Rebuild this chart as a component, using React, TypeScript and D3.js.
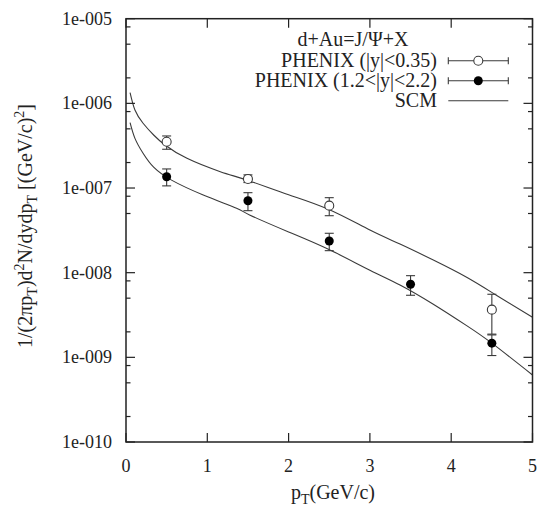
import React from 'react';
import * as d3 from 'd3';

const xTicks = [0, 1, 2, 3, 4, 5];
const yTickValues = [1e-5, 1e-6, 1e-7, 1e-8, 1e-9, 1e-10];
const yTickLabels = ['1e-005', '1e-006', '1e-007', '1e-008', '1e-009', '1e-010'];
const minorFactors = [2, 5, 8];

// PHENIX |y|<0.35 (open circles)
const midPt = [0.5, 1.5, 2.5, 4.5];
const midVal = [3.52e-7, 1.28e-7, 6.19e-8, 3.66e-9];
const midHi = [4.12e-7, 1.43e-7, 7.69e-8, 5.56e-9];
const midLo = [2.87e-7, 1.16e-7, 4.71e-8, 1.88e-9];

// PHENIX 1.2<|y|<2.2 (filled circles)
const fwdPt = [0.5, 1.5, 2.5, 3.5, 4.5];
const fwdVal = [1.36e-7, 7.08e-8, 2.37e-8, 7.3e-9, 1.47e-9];
const fwdHi = [1.68e-7, 8.81e-8, 2.92e-8, 9.22e-9, 1.84e-9];
const fwdLo = [1.06e-7, 5.4e-8, 1.82e-8, 5.41e-9, 1.05e-9];

// SCM curves
const scmUpperPt = [0.05, 0.11, 0.21, 0.34, 0.48, 0.75, 1.16, 1.5, 2.0, 2.49, 3.0, 3.37, 3.78, 4.19, 4.56, 5.0];
const scmUpperVal = [1.34e-6, 8.35e-7, 5.82e-7, 4.23e-7, 3.22e-7, 2.24e-7, 1.56e-7, 1.23e-7, 8.34e-8, 5.61e-8, 3.19e-8, 2.18e-8, 1.41e-8, 8.83e-9, 5.38e-9, 2.97e-9];
const scmLowerPt = [0.05, 0.11, 0.21, 0.34, 0.56, 0.95, 1.36, 1.52, 2.0, 2.49, 3.0, 3.37, 3.78, 4.19, 4.5, 5.0];
const scmLowerVal = [5.91e-7, 3.86e-7, 2.57e-7, 1.76e-7, 1.24e-7, 8.28e-8, 5.77e-8, 4.81e-8, 3.03e-8, 1.89e-8, 1.07e-8, 7.16e-9, 4.24e-9, 2.37e-9, 1.47e-9, 6.19e-10];

const W = 539;
const H = 508;
const L = 126;
const R = 532.5;
const T = 18.7;
const B = 442;

const FONT = '"Liberation Serif", "DejaVu Serif", serif';
const INK = '#222';
const LINE = '#3a3a3a';

export default function App() {
  const x = d3.scaleLinear().domain([0, 5]).range([L, R]);
  const y = d3.scaleLog().domain([1e-10, 1e-5]).range([B, T]);

  const line = d3
    .line<[number, number]>()
    .x((d) => x(d[0]))
    .y((d) => y(d[1]))
    .curve(d3.curveNatural);

  const upperPath = line(scmUpperPt.map((p, i) => [p, scmUpperVal[i]] as [number, number])) || '';
  const lowerPath = line(scmLowerPt.map((p, i) => [p, scmLowerVal[i]] as [number, number])) || '';

  const minorTicks: number[] = [];
  for (let e = -10; e < -5; e++) {
    minorFactors.forEach((f) => minorTicks.push(f * Math.pow(10, e)));
  }

  const cap = 4.5;
  const r = 4.5;

  const errBar = (px: number, lo: number, hi: number, key: string) => (
    <g key={key} stroke={LINE} strokeWidth={1.1}>
      <line x1={px} x2={px} y1={y(lo)} y2={y(hi)} />
      <line x1={px - cap} x2={px + cap} y1={y(lo)} y2={y(lo)} />
      <line x1={px - cap} x2={px + cap} y1={y(hi)} y2={y(hi)} />
    </g>
  );

  const legendRows = [60.7, 80.7, 100.7];
  const lx1 = 448.3;
  const lx2 = 508.3;
  const lxc = 478.3;
  const ltx = 437;

  return (
    <svg
      width={W}
      height={H}
      style={{ position: 'absolute', left: 0, top: 0, background: '#fff' }}
      fontFamily={FONT}
    >
      <rect x={0} y={0} width={W} height={H} fill="#fff" />

      {/* curves */}
      <path d={upperPath} fill="none" stroke={LINE} strokeWidth={1.1} />
      <path d={lowerPath} fill="none" stroke={LINE} strokeWidth={1.1} />

      {/* data: mid rapidity */}
      {midPt.map((p, i) => errBar(x(p), midLo[i], midHi[i], 'me' + i))}
      {midPt.map((p, i) => (
        <circle key={'mc' + i} cx={x(p)} cy={y(midVal[i])} r={r} fill="#fff" stroke={LINE} strokeWidth={1.1} />
      ))}
      {/* data: forward rapidity */}
      {fwdPt.map((p, i) => errBar(x(p), fwdLo[i], fwdHi[i], 'fe' + i))}
      {fwdPt.map((p, i) => (
        <circle key={'fc' + i} cx={x(p)} cy={y(fwdVal[i])} r={r} fill="#000" />
      ))}

      {/* frame */}
      <rect x={L} y={T} width={R - L} height={B - T} fill="none" stroke={INK} strokeWidth={1.5} />

      {/* x ticks */}
      {xTicks.map((t) => (
        <g key={'xt' + t}>
          <line x1={x(t)} x2={x(t)} y1={B} y2={B - 9} stroke={INK} strokeWidth={1.2} />
          <line x1={x(t)} x2={x(t)} y1={T} y2={T + 9} stroke={INK} strokeWidth={1.2} />
          <text x={x(t)} y={472} textAnchor="middle" fontSize={18} fill={INK}>
            {t}
          </text>
        </g>
      ))}

      {/* y ticks */}
      {yTickValues.map((v, i) => (
        <g key={'yt' + i}>
          <line x1={L} x2={L + 9} y1={y(v)} y2={y(v)} stroke={INK} strokeWidth={1.2} />
          <line x1={R} x2={R - 9} y1={y(v)} y2={y(v)} stroke={INK} strokeWidth={1.2} />
          <text x={112} y={y(v) + 6} textAnchor="end" fontSize={18} fill={INK}>
            {yTickLabels[i]}
          </text>
        </g>
      ))}
      {minorTicks.map((v, i) => (
        <g key={'ym' + i}>
          <line x1={L} x2={L + 4.5} y1={y(v)} y2={y(v)} stroke={INK} strokeWidth={1.2} />
          <line x1={R} x2={R - 4.5} y1={y(v)} y2={y(v)} stroke={INK} strokeWidth={1.2} />
        </g>
      ))}

      {/* x label */}
      <text x={333} y={499} textAnchor="middle" fontSize={20} fill={INK}>
        p<tspan fontSize={14} dy={5}>T</tspan>
        <tspan dy={-5}>(GeV/c)</tspan>
      </text>

      {/* y label */}
      <text
        transform={`translate(32, 226) rotate(-90)`}
        textAnchor="middle"
        fontSize={20}
        fill={INK}
      >
        1/(2πp<tspan fontSize={14} dy={5}>T</tspan>
        <tspan dy={-5}>)d</tspan>
        <tspan fontSize={14} dy={-8}>2</tspan>
        <tspan dy={8}>N/dydp</tspan>
        <tspan fontSize={14} dy={5}>T</tspan>
        <tspan dy={-5}> [(GeV/c)</tspan>
        <tspan fontSize={14} dy={-8}>2</tspan>
        <tspan dy={8}>]</tspan>
      </text>

      {/* legend */}
      <text x={353} y={46} textAnchor="middle" fontSize={20} fill={INK}>
        d+Au=J/Ψ+X
      </text>
      <text x={ltx} y={legendRows[0] + 6} textAnchor="end" fontSize={20} fill={INK}>
        PHENIX (|y|&lt;0.35)
      </text>
      <text x={ltx} y={legendRows[1] + 6} textAnchor="end" fontSize={20} fill={INK}>
        PHENIX (1.2&lt;|y|&lt;2.2)
      </text>
      <text x={ltx} y={legendRows[2] + 6} textAnchor="end" fontSize={20} fill={INK}>
        SCM
      </text>
      {[0, 1].map((k) => (
        <g key={'lg' + k} stroke={LINE} strokeWidth={1.1}>
          <line x1={lx1} x2={lx2} y1={legendRows[k]} y2={legendRows[k]} />
          <line x1={lx1} x2={lx1} y1={legendRows[k] - 3.5} y2={legendRows[k] + 3.5} />
          <line x1={lx2} x2={lx2} y1={legendRows[k] - 3.5} y2={legendRows[k] + 3.5} />
        </g>
      ))}
      <circle cx={lxc} cy={legendRows[0]} r={r} fill="#fff" stroke={LINE} strokeWidth={1.1} />
      <circle cx={lxc} cy={legendRows[1]} r={r} fill="#000" />
      <line x1={lx1} x2={lx2} y1={legendRows[2]} y2={legendRows[2]} stroke={LINE} strokeWidth={1.1} />
    </svg>
  );
}
